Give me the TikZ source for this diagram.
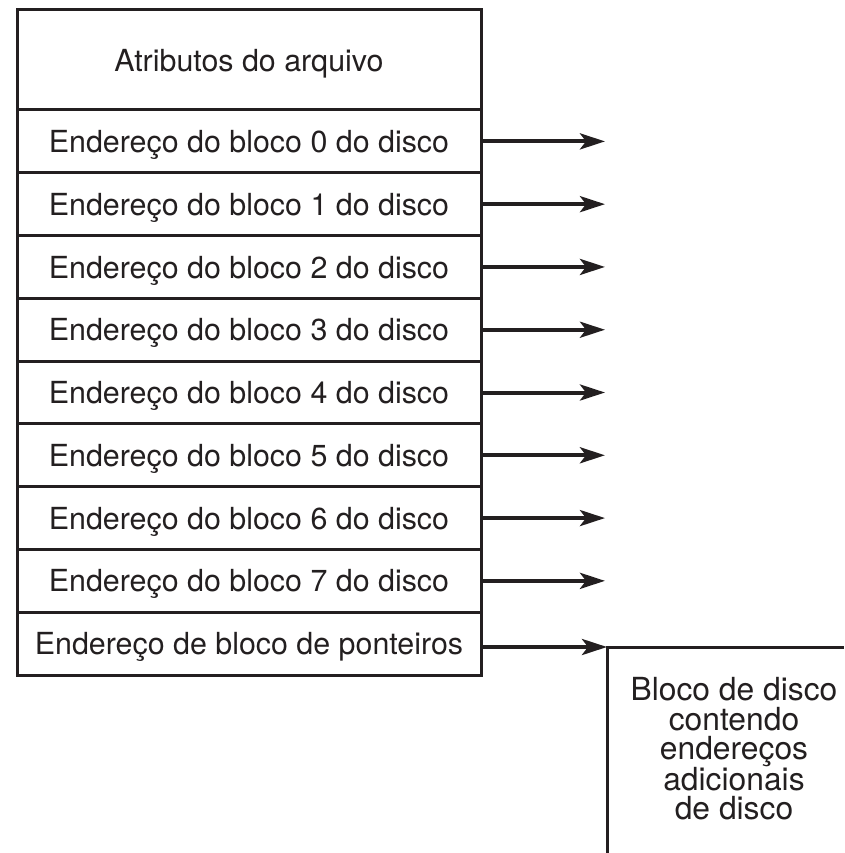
\documentclass[tikz,border=0pt]{standalone}
\usepackage{fontspec}
\setmainfont{TeX Gyre Heros}
\usetikzlibrary{arrows.meta}
\definecolor{ink}{HTML}{231F20}
\begin{document}
\begin{tikzpicture}[x=1pt,y=-1pt,
  cell/.style={draw=ink, line width=3pt, minimum width=464pt, inner sep=0pt,
    text=ink, text depth=0pt, font=\fontsize{30.4}{36}\selectfont},
  ptr/.style={draw=ink, line width=4pt, -{Stealth[length=25pt,width=16pt,inset=6pt]}},
  diskline/.style={draw=ink, line width=3pt},
  disktext/.style={text=ink, align=center, inner sep=0pt,
    font=\fontsize{31.8}{29.2}\selectfont}]
\useasboundingbox (0,0) rectangle (844,853);
\node[cell, minimum height=100pt] (attr) at (249,60) {Atributos do arquivo};
\foreach \i in {0,...,7}{
  \node[cell, minimum height=62.78pt] (r\i) at (249,{110+62.78*(\i+0.5)}) {Endereço do bloco \i\ do disco};
  \coordinate (t\i) at (605,{110+62.78*(\i+0.5)});
  \draw[ptr] (r\i.east) -- (t\i);
}
\node[cell, minimum height=62.78pt] (rp) at (249,{110+62.78*8.5}) {Endereço de bloco de ponteiros};
\coordinate (dc) at (607,647);
\coordinate (db) at (607,853);
\coordinate (dr) at (844,647);
\draw[diskline] (db) -- (dc) -- (dr);
\draw[ptr] (rp.east |- dc) -- (dc);
\node[disktext] (disk) at (734,749) {Bloco de disco\\contendo\\endereços\\adicionais\\de disco};
\end{tikzpicture}
\end{document}
